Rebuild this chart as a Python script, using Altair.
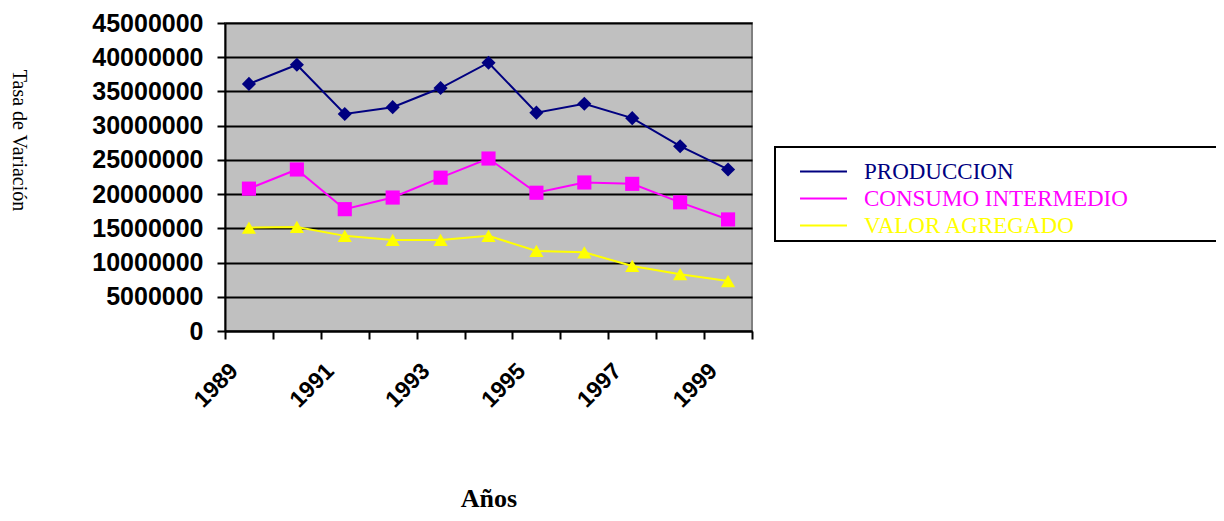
import altair as alt
import pandas as pd

years = [1989, 1990, 1991, 1992, 1993, 1994, 1995, 1996, 1997, 1998, 1999]
produccion = [36100000, 38900000, 31700000, 32700000, 35500000, 39200000,
              31900000, 33200000, 31100000, 27000000, 23600000]
consumo = [20800000, 23600000, 17800000, 19500000, 22400000, 25200000,
           20200000, 21700000, 21500000, 18800000, 16300000]
valor = [15100000, 15200000, 13900000, 13300000, 13300000, 13900000,
         11700000, 11500000, 9500000, 8300000, 7300000]

series_names = ["PRODUCCION", "CONSUMO INTERMEDIO", "VALOR AGREGADO"]
series_colors = ["#000080", "#FF00FF", "#FFFF00"]
legend_line_colors = ["#000080", "#FF00FF", "#FFC000"]
series_shapes = ["diamond", "square", "triangle-up"]
y_ticks = [0, 5000000, 10000000, 15000000, 20000000, 25000000,
           30000000, 35000000, 40000000, 45000000]

rows = []
for name, vals in zip(series_names, [produccion, consumo, valor]):
    for yr, v in zip(years, vals):
        rows.append({"year": str(yr), "serie": name, "marca": name, "value": v})
df = pd.DataFrame(rows)


def color_expr(colors):
    expr = "'" + colors[-1] + "'"
    for n, c in reversed(list(zip(series_names[:-1], colors[:-1]))):
        expr = "datum.value == '" + n + "' ? '" + c + "' : (" + expr + ")"
    return expr


x_enc = alt.X(
    "year:O",
    sort=[str(y) for y in years],
    scale=alt.Scale(type="band", paddingInner=0, paddingOuter=0),
    axis=alt.Axis(
        title="Años",
        titleFont="Liberation Serif", titleFontSize=26, titleFontWeight="bold",
        titleColor="black", titleY=175, titleBaseline="alphabetic",
        tickBand="extent", tickSize=8, tickWidth=2, tickColor="black",
        domainColor="black", domainWidth=2,
        labelExpr="toNumber(datum.value) % 2 == 1 ? datum.label : ''",
        labelAngle=-45, labelAlign="right", labelBaseline="middle",
        labelFont="Liberation Sans", labelFontWeight="bold", labelFontSize=23,
        labelColor="black", labelPadding=28, labelOffset=-15, labelOverlap=False,
    ),
)
y_enc = alt.Y(
    "value:Q",
    scale=alt.Scale(domain=[0, 45000000]),
    axis=alt.Axis(
        values=y_ticks, format="d", grid=True, gridColor="black", gridWidth=2,
        tickSize=8, tickWidth=2, tickColor="black",
        domainColor="black", domainWidth=2,
        labelFont="Liberation Sans", labelFontWeight="bold", labelFontSize=25,
        labelColor="black", labelPadding=14,
        title="Tasa de Variación", titleFont="Liberation Serif",
        titleFontSize=20, titleFontWeight="normal", titleColor="black",
        titleAngle=90, titleX=-207, titleY=117,
        titleAlign="center", titleBaseline="middle",
    ),
)

legend = alt.Legend(
    orient="none", legendX=587, legendY=137, title=None,
    symbolType="M-2.5,0H2.5", symbolSize=353, symbolStrokeWidth=2,
    labelFont="Liberation Serif", labelFontSize=23, labelOffset=29,
    padding=0, labelLimit=600,
    labelColor={"expr": color_expr(series_colors)},
    symbolStrokeColor={"expr": color_expr(legend_line_colors)},
)

box = alt.Chart(pd.DataFrame({"k": [0]})).mark_rect(
    fill="white", stroke="black", strokeWidth=2
).encode(
    x=alt.value(550), x2=alt.value(993), y=alt.value(124), y2=alt.value(218)
)

lines = alt.Chart(df).mark_line(strokeWidth=2).encode(
    x=x_enc, y=y_enc,
    color=alt.Color("serie:N", scale=alt.Scale(domain=series_names, range=series_colors),
                    legend=legend, sort=series_names),
    detail="serie:N",
)

points = alt.Chart(df).mark_point(filled=True, opacity=1, size=200).encode(
    x=x_enc, y=y_enc,
    color=alt.Color("marca:N", scale=alt.Scale(domain=series_names, range=series_colors),
                    legend=None),
    shape=alt.Shape("marca:N", scale=alt.Scale(domain=series_names, range=series_shapes),
                    legend=None),
)

chart = alt.layer(box, lines, points).resolve_scale(
    color="independent", shape="independent"
).properties(
    width=527, height=308,
    autosize=alt.AutoSizeParams(type="none"),
    padding={"left": 217, "top": 15, "right": 464, "bottom": 180},
    background="white",
).configure_view(
    fill="#C0C0C0", stroke="#808080", strokeWidth=2
).configure_legend(rowPadding=3)

chart.save("out.html", embed_options={"renderer": "svg", "actions": False})
